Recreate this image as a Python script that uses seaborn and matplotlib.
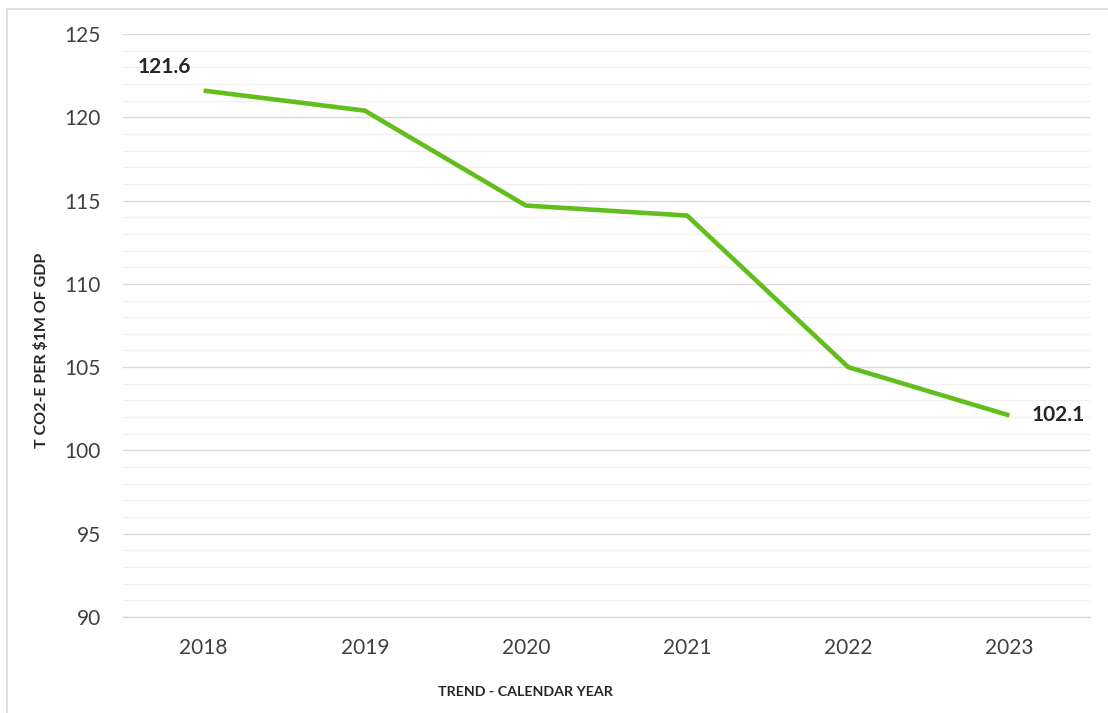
import matplotlib
matplotlib.use("Agg")
import matplotlib.pyplot as plt
import seaborn as sns
import pandas as pd
import numpy as np
from matplotlib.patches import Rectangle
from matplotlib.ticker import MultipleLocator, FixedLocator

years = ["2018", "2019", "2020", "2021", "2022", "2023"]
values = [121.6, 120.4, 114.7, 114.1, 105.0, 102.1]
y_ticks = [90, 95, 100, 105, 110, 115, 120, 125]

sns.set_theme(style="white")
plt.rcParams['font.family'] = ['Lato', 'DejaVu Sans']

W, H = 1108, 713
fig = plt.figure(figsize=(W / 100, H / 100), dpi=100)
ax = fig.add_axes([123 / W, 1 - 617 / H, (1090 - 123) / W, (617 - 34) / H])

df = pd.DataFrame({"x": np.arange(len(years)), "year": years, "value": values})
sns.lineplot(data=df, x="x", y="value", ax=ax, color="#62BE1C", linewidth=3.3,
             solid_capstyle="butt")

ax.set_xlim(-0.5, len(years) - 0.5)
ax.set_ylim(90, 125)
ax.set_yticks(y_ticks)
ax.yaxis.set_minor_locator(MultipleLocator(1))
ax.grid(which="major", axis="y", color="#D9D9D9", linewidth=1.0)
ax.grid(which="minor", axis="y", color="#F0F0F0", linewidth=0.9)
ax.set_axisbelow(True)

ax.set_xticks(df["x"])
ax.set_xticklabels(years)
ax.xaxis.set_minor_locator(FixedLocator(np.arange(-0.5, len(years), 1.0)))
ax.tick_params(axis="x", which="major", length=0, pad=15, labelsize=15, colors="#404040")
ax.tick_params(axis="x", which="minor", length=5, width=0.8, color="#D9D9D9", direction="out")
ax.tick_params(axis="y", which="both", length=0, pad=16, labelsize=15, colors="#404040")

for s in ["top", "right", "left"]:
    ax.spines[s].set_visible(False)
ax.spines["bottom"].set_color("#D9D9D9")
ax.spines["bottom"].set_linewidth(1.0)

ax.set_xlabel("")
ax.set_ylabel("")

# data labels for first and last points
ax.annotate(f"{values[0]:.1f}", xy=(0, values[0]), xytext=(-47.5, 17), textcoords="offset points",
            fontsize=15, fontweight="bold", color="#262626", ha="left", va="center")
ax.annotate(f"{values[-1]:.1f}", xy=(len(years) - 1, values[-1]), xytext=(16, 0),
            textcoords="offset points", fontsize=15, fontweight="bold", color="#262626",
            ha="left", va="center")

fig.text(525 / W, 1 - 692 / H, "TREND - CALENDAR YEAR", ha="center", va="center",
         fontsize=10.3, fontweight="bold", color="#262626")
fig.text(42 / W, 1 - 350 / H, "T CO2-E PER $1M OF GDP", ha="center", va="center",
         rotation=90, fontsize=11.5, fontweight="bold", color="#262626")

fig.add_artist(Rectangle((7 / W, -0.05), 1.2, 1 - 9 / H + 0.05, transform=fig.transFigure,
                         fill=False, edgecolor="#D9D9D9", linewidth=1.2))

fig.savefig("out.png", dpi=100, facecolor="white")
